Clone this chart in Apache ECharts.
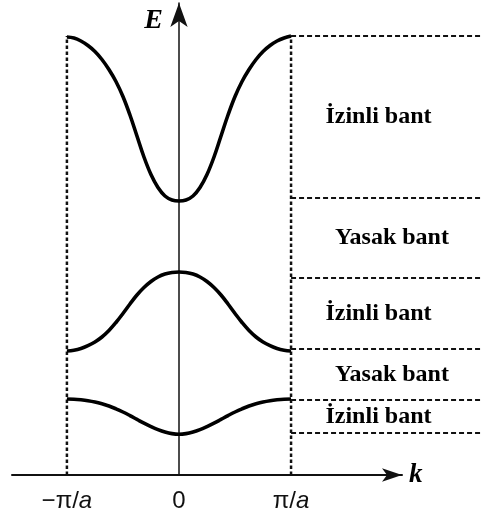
<!DOCTYPE html>
<html>
<head>
<meta charset="utf-8">
<script src="https://cdn.jsdelivr.net/npm/echarts@6/dist/echarts.min.js"></script>
<style>
  html, body { margin: 0; padding: 0; background: #fff; }
  #chart { width: 482px; height: 520px; }
</style>
</head>
<body>
<div id="chart"></div>
<script>
// Wave-vector samples across the first Brillouin zone, in units of π/a
const kValues = [-1, -0.9375, -0.875, -0.8125, -0.75, -0.6875, -0.625, -0.5625,
                 -0.5, -0.4375, -0.375, -0.3125, -0.25, -0.1875, -0.125, -0.0625, 0,
                 0.0625, 0.125, 0.1875, 0.25, 0.3125, 0.375, 0.4375, 0.5,
                 0.5625, 0.625, 0.6875, 0.75, 0.8125, 0.875, 0.9375, 1];

// Energy of each band at the samples above (arbitrary units)
const upperBandE = [43.8, 43.7, 43.4, 42.95, 42.35, 41.55, 40.55, 39.35,
                    37.85, 36.0, 33.9, 31.8, 30.05, 28.75, 27.9, 27.5, 27.4,
                    27.5, 27.9, 28.75, 30.05, 31.8, 33.9, 36.0, 37.85,
                    39.35, 40.55, 41.55, 42.35, 42.95, 43.4, 43.7, 43.9];
const middleBandE = [12.4, 12.48, 12.65, 12.93, 13.3, 13.8, 14.45, 15.25,
                     16.15, 17.1, 18.0, 18.75, 19.35, 19.8, 20.1, 20.25, 20.3,
                     20.25, 20.1, 19.8, 19.35, 18.75, 18.0, 17.1, 16.15,
                     15.25, 14.45, 13.8, 13.3, 12.93, 12.65, 12.48, 12.4];
const lowerBandE = [7.6, 7.58, 7.52, 7.43, 7.3, 7.12, 6.9, 6.62,
                    6.3, 5.94, 5.56, 5.18, 4.84, 4.54, 4.3, 4.14, 4.08,
                    4.14, 4.3, 4.54, 4.84, 5.18, 5.56, 5.94, 6.3,
                    6.62, 6.9, 7.12, 7.3, 7.43, 7.52, 7.58, 7.6];

// Band edge energies, top to bottom
const bandEdges = [43.9, 27.7, 19.7, 12.6, 7.5, 4.2];
// Names of the regions between consecutive edges
const regionNames = ['İzinli bant', 'Yasak bant', 'İzinli bant', 'Yasak bant', 'İzinli bant'];

// Zone boundaries and tick labels on the k axis
const tickValues = [-1, 0, 1];
const tickLabels = ['−π/a', '0', 'π/a'];

const chart = echarts.init(document.getElementById('chart'));

const W = 482;
const GRID = { left: 12, right: 80, top: 3, bottom: 45 };
const X_MIN = -1.49, X_MAX = 1.99, Y_MIN = 0, Y_MAX = 47.2;
// A second, wider grid with the same scale lets the edge guides reach the page edge
const X_MAX_WIDE = X_MIN + (X_MAX - X_MIN) * (W - GRID.left) / (W - GRID.left - GRID.right);

const zipK = (arr) => kValues.map((k, i) => [k, arr[i]]);

const curveStyle = { color: '#000', width: 3.6 };
const dashStyleH = { color: '#111', width: 2, type: [5, 3] };
const dashStyleV = { color: '#111', width: 2.5, type: [3.5, 2.5] };

const series = [];

// Band curves
[upperBandE, middleBandE, lowerBandE].forEach((band) => {
  series.push({
    type: 'line',
    data: zipK(band),
    smooth: 0.4,
    showSymbol: false,
    silent: true,
    lineStyle: curveStyle,
    z: 5
  });
});

// Zone boundary verticals at ±π/a
tickValues.filter((k) => k !== 0).forEach((k) => {
  series.push({
    type: 'line',
    data: [[k, 0], [k, bandEdges[0]]],
    showSymbol: false,
    silent: true,
    lineStyle: dashStyleV,
    z: 2
  });
});

// Horizontal band-edge guides on the right
bandEdges.forEach((e) => {
  series.push({
    type: 'line',
    xAxisIndex: 1,
    yAxisIndex: 1,
    data: [[1, e], [X_MAX_WIDE, e]],
    showSymbol: false,
    silent: true,
    lineStyle: dashStyleH,
    z: 2
  });
});

// Region names centred between consecutive edges
series.push({
  type: 'scatter',
  symbolSize: 0,
  silent: true,
  clip: false,
  itemStyle: { opacity: 1 },
  data: regionNames.map((name, i) => ({
    name: name,
    value: [name.startsWith('Yasak') ? 1.9 : 1.78, (bandEdges[i] + bandEdges[i + 1]) / 2]
  })),
  label: {
    show: true,
    position: 'inside',
    formatter: (p) => p.name,
    fontFamily: 'Liberation Serif',
    fontWeight: 'bold',
    fontSize: 24,
    color: '#000',
    textBorderWidth: 0
  }
});

chart.setOption({
  backgroundColor: '#fff',
  animation: false,
  grid: [
    { left: GRID.left, right: GRID.right, top: GRID.top, bottom: GRID.bottom },
    { left: GRID.left, right: 0, top: GRID.top, bottom: GRID.bottom }
  ],
  xAxis: [{
    type: 'value',
    gridIndex: 0,
    min: X_MIN,
    max: X_MAX,
    name: 'k',
    nameLocation: 'end',
    nameGap: 7,
    nameTextStyle: {
      fontFamily: 'Liberation Serif',
      fontStyle: 'italic',
      fontWeight: 'bold',
      fontSize: 27,
      color: '#000',
      padding: [0, 0, 6, 0]
    },
    axisLine: {
      show: true,
      symbol: ['none', 'arrow'],
      symbolSize: [10, 20],
      lineStyle: { color: '#111', width: 2 }
    },
    axisTick: { show: false },
    splitLine: { show: false },
    axisLabel: {
      show: true,
      customValues: tickValues,
      margin: 14,
      formatter: (v) => {
        const idx = tickValues.indexOf(v);
        if (idx < 0) return '';
        const t = tickLabels[idx];
        if (t.endsWith('/a')) return '{n|' + t.slice(0, -1) + '}{i|a}';
        return '{n|' + t + '}';
      },
      rich: {
        n: { fontFamily: 'Liberation Sans', fontSize: 24, color: '#111' },
        i: { fontFamily: 'Liberation Sans', fontStyle: 'italic', fontSize: 24, color: '#111' }
      }
    }
  }, {
    type: 'value',
    gridIndex: 1,
    min: X_MIN,
    max: X_MAX_WIDE,
    show: false
  }],
  yAxis: [{
    type: 'value',
    gridIndex: 0,
    min: Y_MIN,
    max: Y_MAX,
    name: 'E',
    nameLocation: 'end',
    nameGap: -4,
    nameTextStyle: {
      fontFamily: 'Liberation Serif',
      fontStyle: 'italic',
      fontWeight: 'bold',
      fontSize: 28,
      color: '#000',
      align: 'right',
      verticalAlign: 'top',
      padding: [0, 16, 0, 0]
    },
    axisLine: {
      show: true,
      onZero: true,
      symbol: ['none', 'arrow'],
      symbolSize: [13, 24],
      lineStyle: { color: '#111', width: 1.5 }
    },
    axisTick: { show: false },
    axisLabel: { show: false },
    splitLine: { show: false }
  }, {
    type: 'value',
    gridIndex: 1,
    min: Y_MIN,
    max: Y_MAX,
    show: false
  }],
  series: series
});
</script>
</body>
</html>
